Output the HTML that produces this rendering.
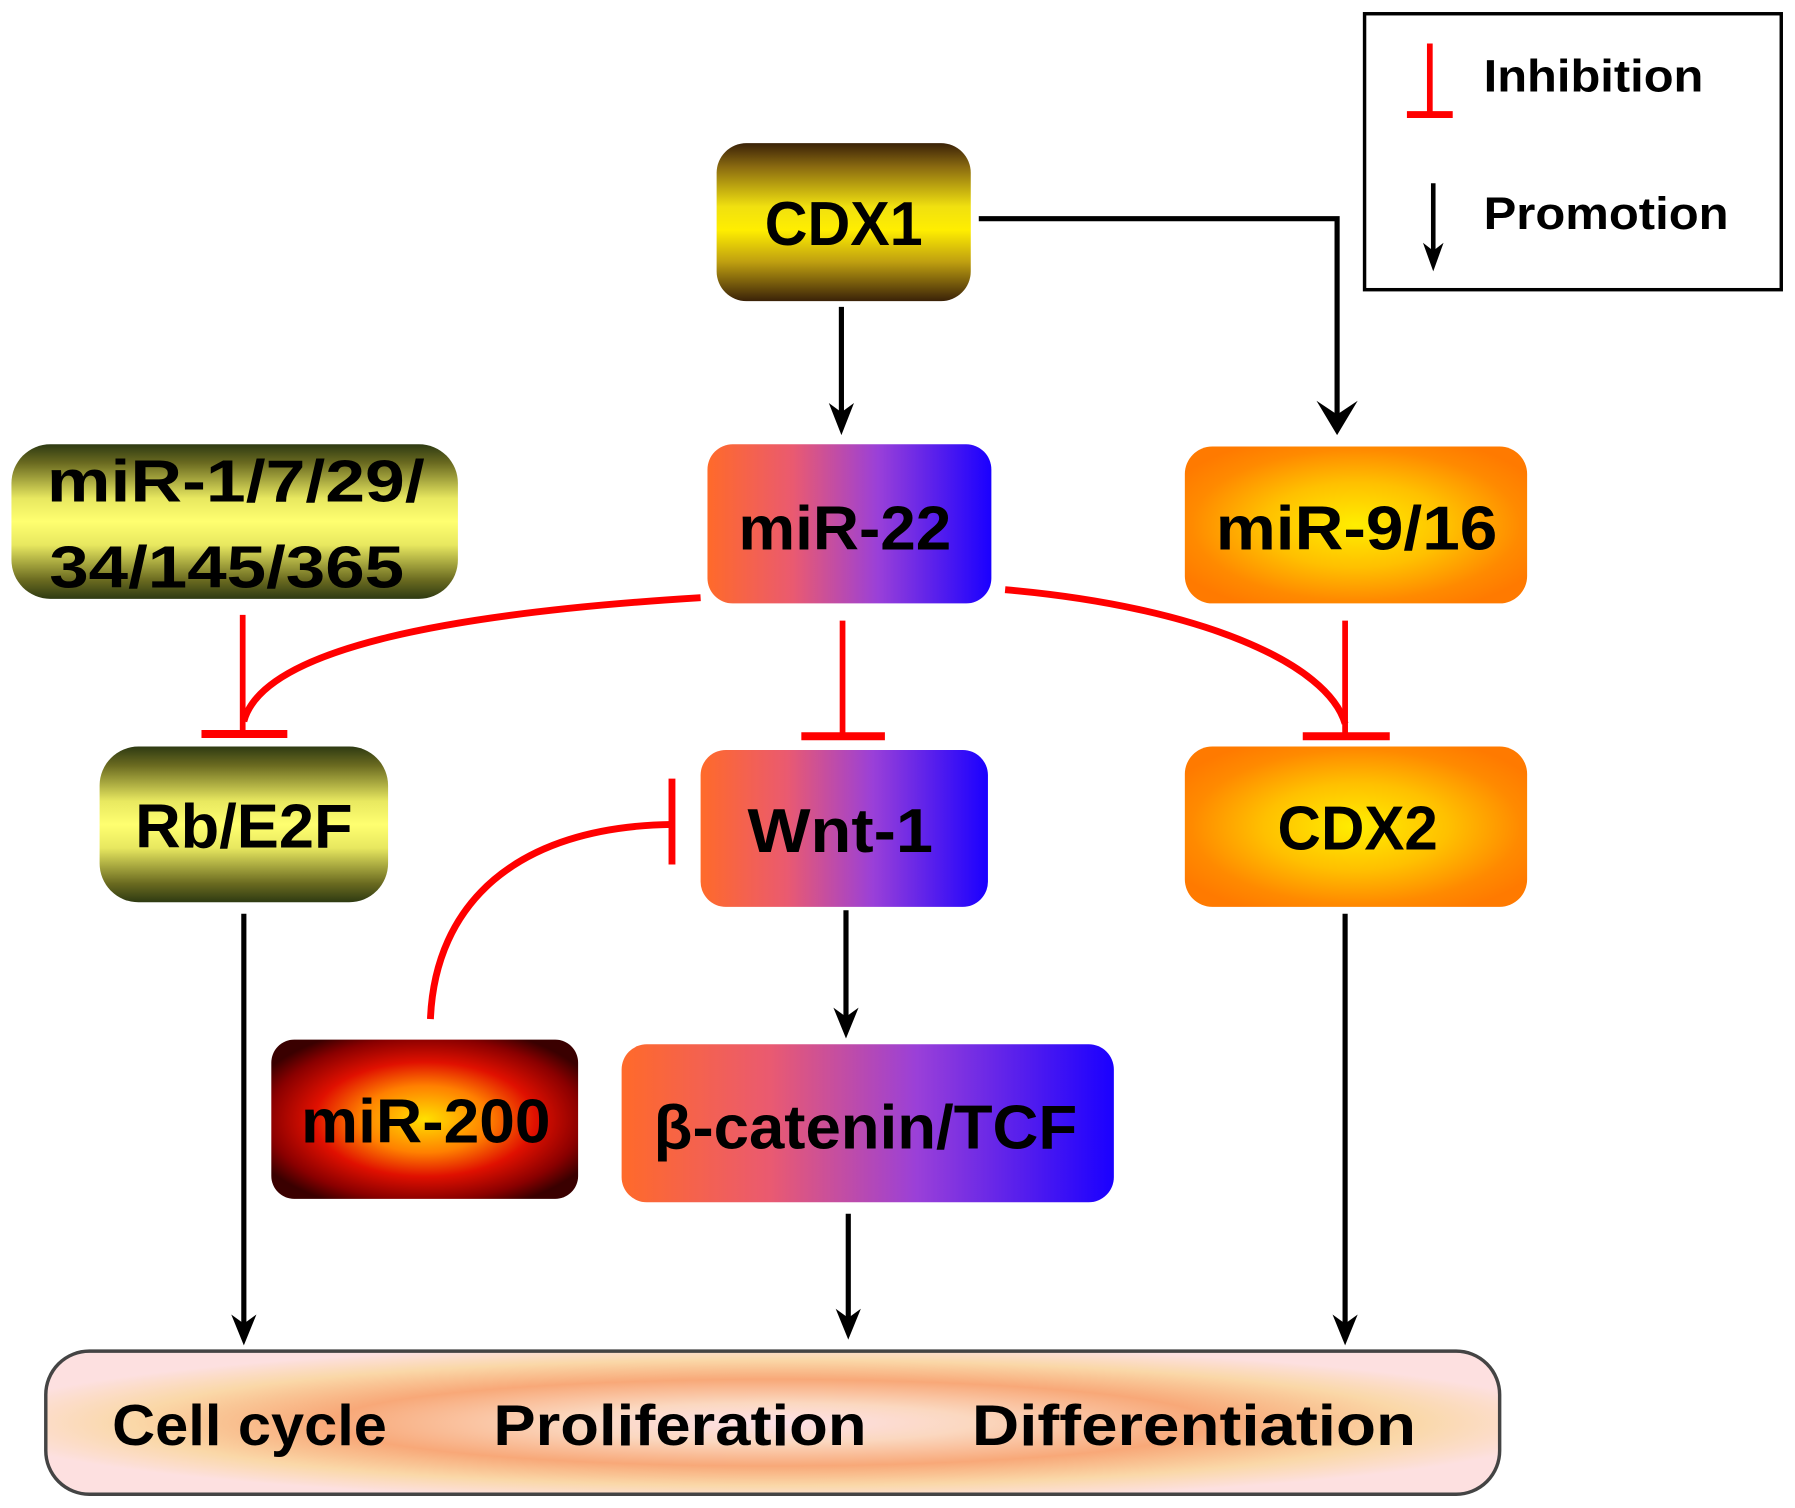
<!DOCTYPE html>
<html><head><meta charset="utf-8"><style>
html,body{margin:0;padding:0;background:#fff}
svg{display:block}
text{font-family:"Liberation Sans Narrow","Liberation Sans",sans-serif;font-weight:bold;fill:#000}
</style></head><body>
<svg width="1795" height="1508" viewBox="0 0 1568 1317" preserveAspectRatio="none" xmlns="http://www.w3.org/2000/svg">
<defs>
<linearGradient id="yv" x1="0" y1="0" x2="0" y2="1">
<stop offset="0" stop-color="#2e3a12"/><stop offset="0.12" stop-color="#6a6a20"/><stop offset="0.35" stop-color="#e8e860"/><stop offset="0.5" stop-color="#ffff70"/><stop offset="0.65" stop-color="#e8e860"/><stop offset="0.88" stop-color="#6a6a20"/><stop offset="1" stop-color="#2e3a12"/>
</linearGradient>
<linearGradient id="cv" x1="0" y1="0" x2="0" y2="1">
<stop offset="0" stop-color="#3a2208"/><stop offset="0.15" stop-color="#8a6a10"/><stop offset="0.4" stop-color="#f0e010"/><stop offset="0.55" stop-color="#ffee00"/><stop offset="0.75" stop-color="#c0a010"/><stop offset="1" stop-color="#3a2208"/>
</linearGradient>
<linearGradient id="pb" x1="0" y1="0" x2="1" y2="0">
<stop offset="0" stop-color="#ff6a2a"/><stop offset="0.3" stop-color="#ea5a70"/><stop offset="0.6" stop-color="#9a40d8"/><stop offset="1" stop-color="#1a00ff"/>
</linearGradient>
<radialGradient id="or" cx="0.5" cy="0.5" r="0.6">
<stop offset="0" stop-color="#ffee00"/><stop offset="0.45" stop-color="#ffc000"/><stop offset="0.8" stop-color="#ff8a00"/><stop offset="1" stop-color="#ff7a00"/>
</radialGradient>
<radialGradient id="rr" cx="0.5" cy="0.5" r="0.6">
<stop offset="0" stop-color="#ffe000"/><stop offset="0.35" stop-color="#ff8000"/><stop offset="0.6" stop-color="#e01000"/><stop offset="0.85" stop-color="#8a0000"/><stop offset="1" stop-color="#3a0000"/>
</radialGradient>
<radialGradient id="bt" cx="0.5" cy="0.5" r="0.55">
<stop offset="0" stop-color="#fde0e8"/><stop offset="0.25" stop-color="#fbd8c0"/><stop offset="0.55" stop-color="#f8a878"/><stop offset="0.8" stop-color="#fad8a8"/><stop offset="1" stop-color="#fde0e0"/>
</radialGradient>
</defs>

<rect x="1192" y="12" width="364" height="241" fill="#fff" stroke="#000" stroke-width="3"/>
<line x1="1249" y1="38" x2="1249" y2="100" stroke="#f00" stroke-width="5"/>
<line x1="1229" y1="100" x2="1269" y2="100" stroke="#f00" stroke-width="6"/>
<text x="1296" y="80" font-size="40" textLength="192" lengthAdjust="spacingAndGlyphs">Inhibition</text>
<line x1="1252" y1="160" x2="1252" y2="222" stroke="#000" stroke-width="4"/>
<path d="M1243,212 L1252,237 L1261,212 L1252,219 Z"/>
<text x="1296" y="200" font-size="40" textLength="214" lengthAdjust="spacingAndGlyphs">Promotion</text>

<g stroke="#000" stroke-width="4.5" fill="none">
<line x1="735" y1="268" x2="735" y2="362"/>
<polyline points="855,191 1168,191 1168,362"/>
<line x1="213" y1="798" x2="213" y2="1158"/>
<line x1="739" y1="795" x2="739" y2="890"/>
<line x1="741" y1="1060" x2="741" y2="1152"/>
<line x1="1175" y1="798" x2="1175" y2="1158"/>
</g>
<g fill="#000">
<path d="M724,352 L735,380 L746,352 L735,360 Z"/>
<path d="M1150,350 L1168,380 L1186,350 L1168,362 Z"/>
<path d="M202,1148 L213,1175 L224,1148 L213,1156 Z"/>
<path d="M728,880 L739,907 L750,880 L739,888 Z"/>
<path d="M730,1143 L741,1170 L752,1143 L741,1151 Z"/>
<path d="M1164,1148 L1175,1175 L1186,1148 L1175,1156 Z"/>
</g>

<g stroke="#f00" fill="none">
<line x1="212" y1="537" x2="212" y2="641" stroke-width="5"/>
<path d="M612,522 C400,535 230,565 213,630" stroke-width="6"/>
<line x1="176" y1="641" x2="251" y2="641" stroke-width="7"/>
<line x1="736" y1="542" x2="736" y2="643" stroke-width="5"/>
<line x1="700" y1="643" x2="773" y2="643" stroke-width="7"/>
<path d="M878,515 C1050,530 1160,580 1175,632" stroke-width="6"/>
<line x1="1175" y1="542" x2="1175" y2="643" stroke-width="5"/>
<line x1="1138" y1="643" x2="1214" y2="643" stroke-width="7"/>
<path d="M376,890 C380,790 450,722 587,720" stroke-width="6"/>
<line x1="587" y1="680" x2="587" y2="755" stroke-width="6"/>
</g>

<rect x="626" y="125" width="222" height="138" rx="26" fill="url(#cv)"/>
<text x="737" y="214" font-size="54" text-anchor="middle" textLength="138" lengthAdjust="spacingAndGlyphs">CDX1</text>

<rect x="618" y="388" width="248" height="139" rx="22" fill="url(#pb)"/>
<text x="738" y="480" font-size="54" text-anchor="middle" textLength="186" lengthAdjust="spacingAndGlyphs">miR-22</text>

<rect x="1035" y="390" width="299" height="137" rx="24" fill="url(#or)"/>
<text x="1185" y="480" font-size="54" text-anchor="middle" textLength="246" lengthAdjust="spacingAndGlyphs">miR-9/16</text>

<rect x="10" y="388" width="390" height="135" rx="34" fill="url(#yv)"/>
<text x="206" y="438" font-size="52" text-anchor="middle" textLength="330" lengthAdjust="spacingAndGlyphs">miR-1/7/29/</text>
<text x="198" y="513" font-size="52" text-anchor="middle" textLength="310" lengthAdjust="spacingAndGlyphs">34/145/365</text>

<rect x="87" y="652" width="252" height="136" rx="34" fill="url(#yv)"/>
<text x="213" y="740" font-size="54" text-anchor="middle" textLength="190" lengthAdjust="spacingAndGlyphs">Rb/E2F</text>

<rect x="612" y="655" width="251" height="137" rx="22" fill="url(#pb)"/>
<text x="734" y="744" font-size="54" text-anchor="middle" textLength="162" lengthAdjust="spacingAndGlyphs">Wnt-1</text>

<rect x="1035" y="652" width="299" height="140" rx="24" fill="url(#or)"/>
<text x="1186" y="742" font-size="54" text-anchor="middle" textLength="140" lengthAdjust="spacingAndGlyphs">CDX2</text>

<rect x="237" y="908" width="268" height="139" rx="20" fill="url(#rr)"/>
<text x="372" y="998" font-size="54" text-anchor="middle" textLength="218" lengthAdjust="spacingAndGlyphs">miR-200</text>

<rect x="543" y="912" width="430" height="138" rx="22" fill="url(#pb)"/>
<text x="756" y="1003" font-size="54" text-anchor="middle" textLength="370" lengthAdjust="spacingAndGlyphs">β-catenin/TCF</text>

<rect x="40" y="1180" width="1270" height="125" rx="38" fill="url(#bt)" stroke="#444" stroke-width="3"/>
<text x="218" y="1262" font-size="50" text-anchor="middle" textLength="240" lengthAdjust="spacingAndGlyphs">Cell cycle</text>
<text x="594" y="1262" font-size="50" text-anchor="middle" textLength="326" lengthAdjust="spacingAndGlyphs">Proliferation</text>
<text x="1043" y="1262" font-size="50" text-anchor="middle" textLength="388" lengthAdjust="spacingAndGlyphs">Differentiation</text>
</svg>
</body></html>
